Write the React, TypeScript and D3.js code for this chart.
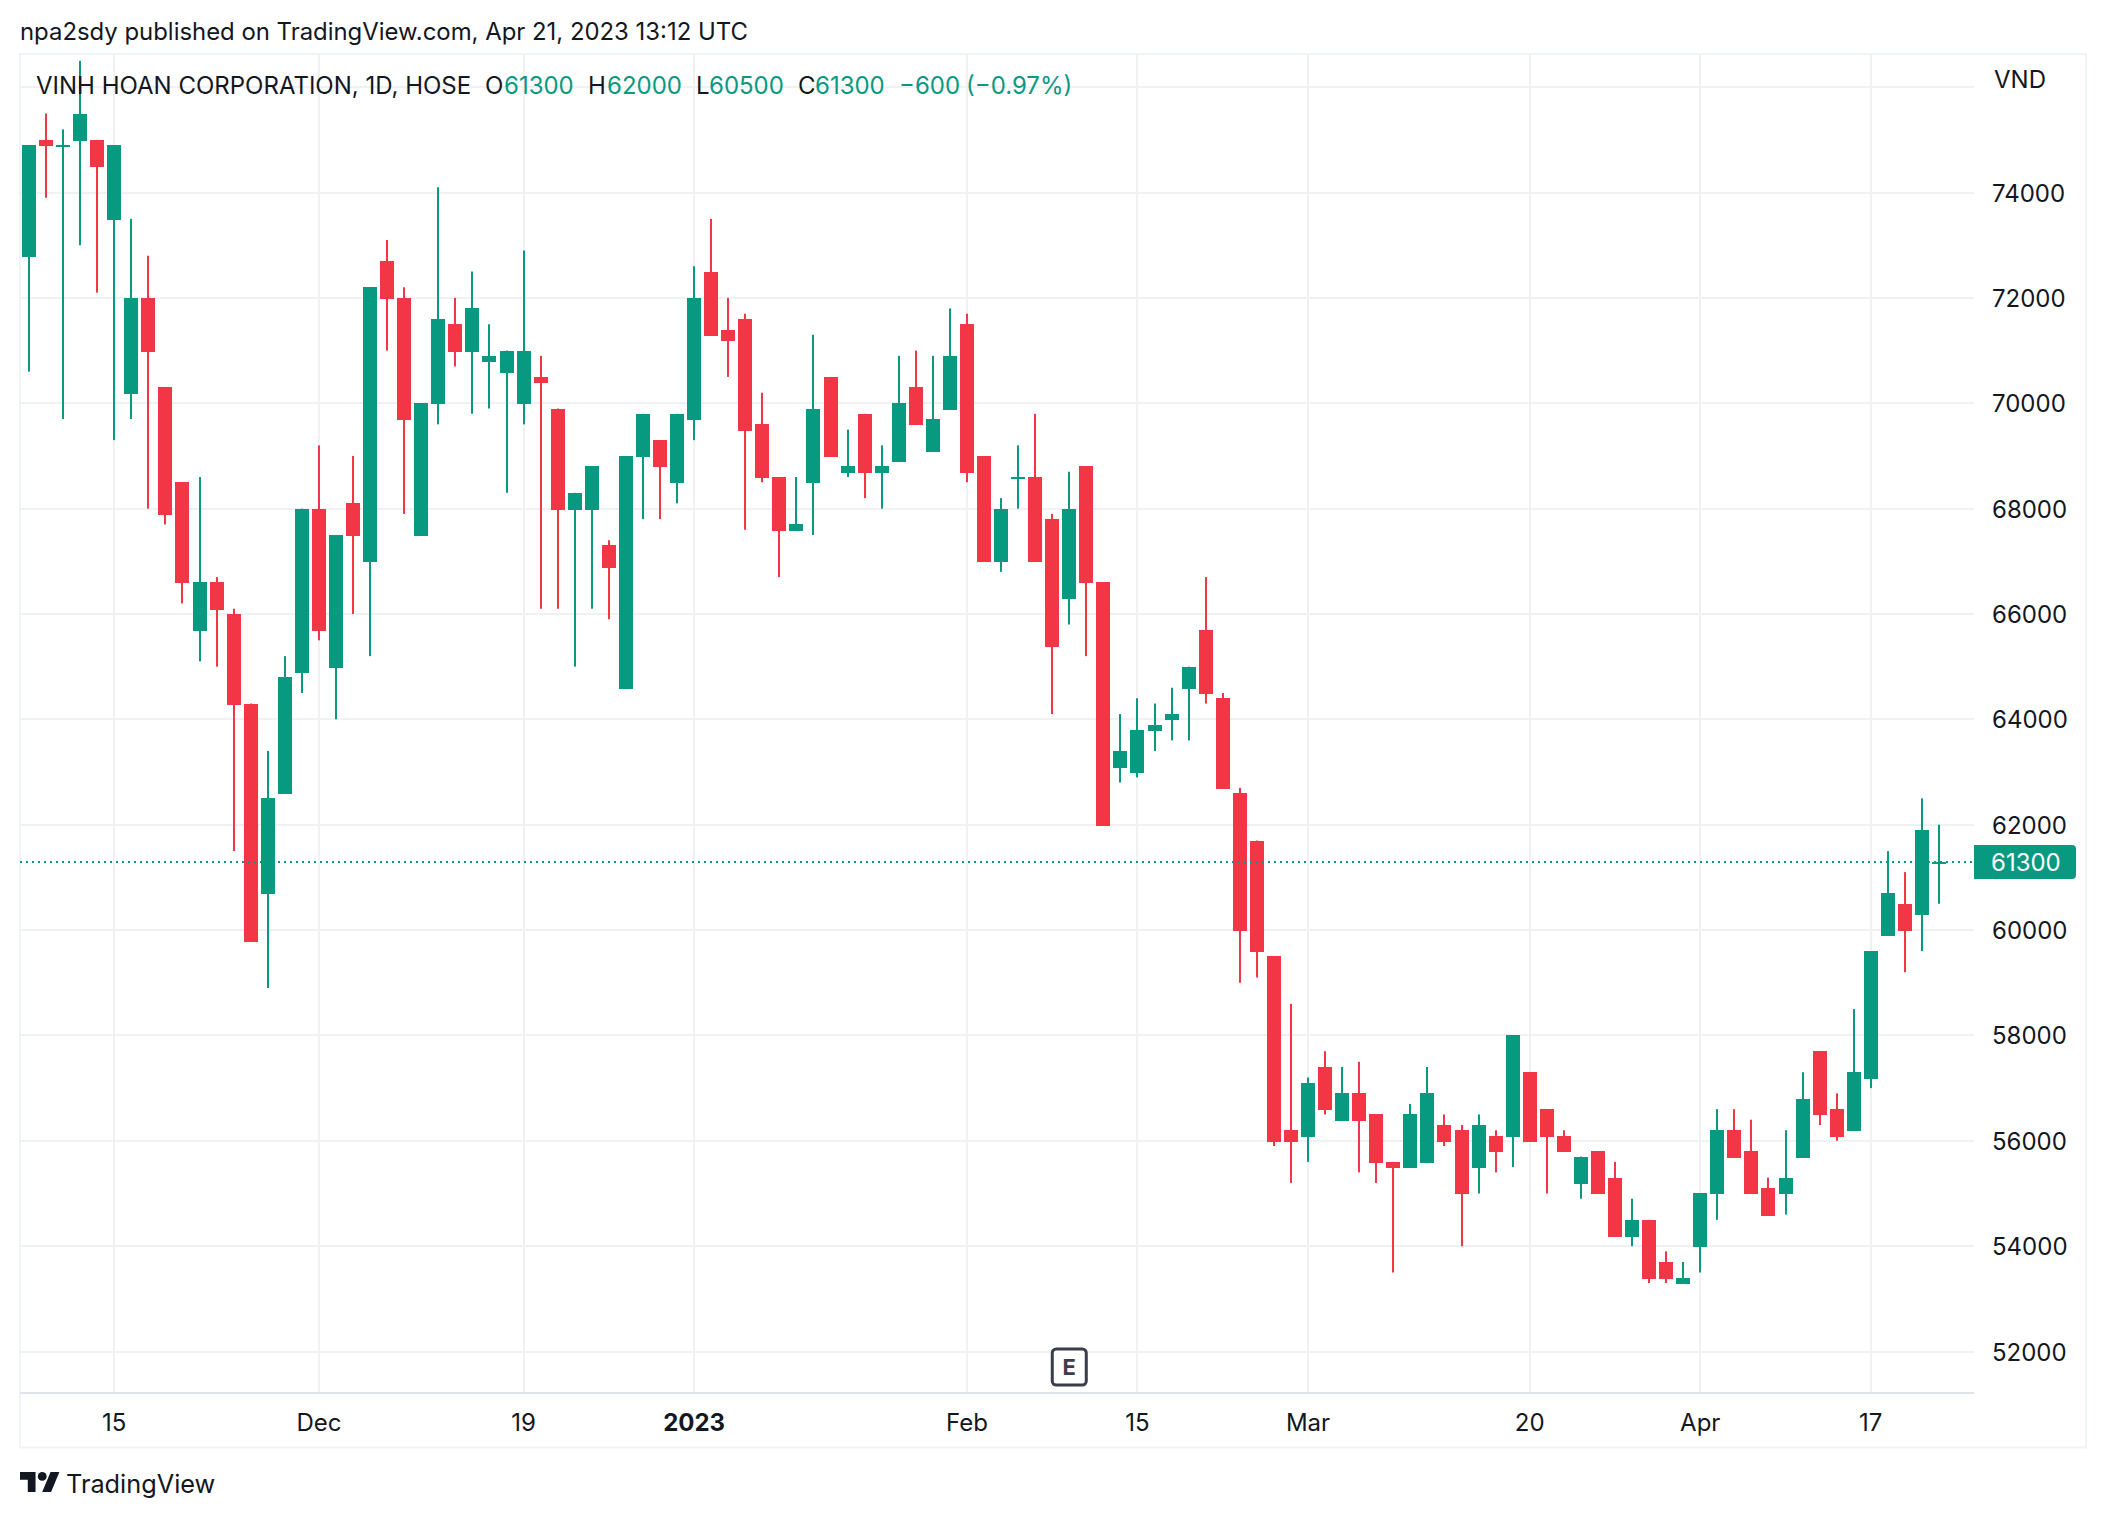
import React from "react";
import * as d3 from "d3";

const W = 2106, H = 1518;

const opens = [72800,75000,74900,75000,75000,73500,70200,72000,70300,68500,65700,66600,66000,64300,60700,62600,64900,68000,65000,68100,67000,72700,72000,67500,70000,71500,71000,70800,70600,70000,70500,69900,68000,68000,67300,64600,69000,69300,68500,69700,72500,71400,71600,69600,68600,67600,68500,70500,68700,69800,68700,68900,70300,69100,69900,71500,69000,67000,68600,68600,67800,66300,68800,66600,63100,63000,63800,64000,64600,65700,64400,62600,61700,59500,56200,56100,57400,56400,56900,56500,55600,55500,55600,56300,56200,55500,56100,56100,57300,56600,56100,55200,55800,55300,54200,54500,53700,53300,54000,55000,56200,55800,55100,55000,55700,57700,56600,56200,57200,59900,60500,60300,61300];
const highs = [74900,75500,75200,76500,75000,74900,73500,72800,70300,68500,68600,66700,66100,64300,63400,65200,68000,69200,67500,69000,72200,73100,72200,70000,74100,72000,72500,71500,71000,72900,70900,69900,68300,68800,67400,69000,69800,69300,69800,72600,73500,72000,71700,70200,68600,68600,71300,70500,69500,69800,69200,70900,71000,70900,71800,71700,69000,68200,69200,69800,67900,68700,68800,66600,64100,64400,64300,64600,65000,66700,64500,62700,61700,59500,58600,57200,57700,57400,57500,56500,55600,56700,57400,56500,56300,56500,56200,58000,57300,56600,56200,55700,55800,55600,54900,54500,53900,53700,55000,56600,56600,56400,55300,56200,57300,57700,56900,58500,59600,61500,61100,62500,62000];
const lows = [70600,73900,69700,73000,72100,69300,69700,68000,67700,66200,65100,65000,61500,59800,58900,62600,64500,65500,64000,66000,65200,71000,67900,67500,69600,70700,69800,69900,68300,69600,66100,66100,65000,66100,65900,64600,67800,67800,68100,69300,71300,70500,67600,68500,66700,67600,67500,69000,68600,68200,68000,68900,69600,69100,69900,68500,67000,66800,68000,67000,64100,65800,65200,62000,62800,62900,63400,63600,63600,64300,62700,59000,59100,55900,55200,55600,56500,56400,55400,55200,53500,55500,55600,55900,54000,55000,55400,55500,56000,55000,55800,54900,55000,54200,54000,53300,53300,53300,53500,54500,55700,55000,54600,54600,55700,56300,56000,56200,57000,59900,59200,59600,60500];
const closes = [74900,74900,74900,75500,74500,74900,72000,71000,67900,66600,66600,66100,64300,59800,62500,64800,68000,65700,67500,67500,72200,72000,69700,70000,71600,71000,71800,70900,71000,71000,70400,68000,68300,68800,66900,69000,69800,68800,69800,72000,71300,71200,69500,68600,67600,67700,69900,69000,68800,68700,68800,70000,69600,69700,70900,68700,67000,68000,68600,67000,65400,68000,66600,62000,63400,63800,63900,64100,65000,64500,62700,60000,59600,56000,56000,57100,56600,56900,56400,55600,55500,56500,56900,56000,55000,56300,55800,58000,56000,56100,55800,55700,55000,54200,54500,53400,53400,53400,55000,56200,55700,55000,54600,55300,56800,56500,56100,57300,59600,60700,60000,61900,61300];

const priceTicks = [52000,54000,56000,58000,60000,62000,64000,66000,68000,70000,72000,74000,76000];
const labelledPriceTicks = [52000,54000,56000,58000,60000,62000,64000,66000,68000,70000,72000,74000];
const timeTickIndex = [5,17,29,39,55,65,75,88,98,108];
const timeTickLabel = ["15","Dec","19","2023","Feb","15","Mar","20","Apr","17"];
const lastPrice = 61300;
const earningsIndex = 61;

const GREEN = "#089981", RED = "#f23645", INK = "#131722", GRID = "#f0f1f3";
const FONT = "Inter, 'Noto Sans', sans-serif";
const paneL = 20, paneR = 1974, paneT = 54, paneB = 1393, frameR = 2086, frameB = 1447.5;

const x = d3.scaleLinear().domain([0, 112]).range([29, 1939]);
const y = d3.scaleLinear().domain([62000, 52000]).range([824.7, 1351.5]);
const bodyW = 14;

const legendParts: [string, number, string][] = [
  ["VINH HOAN CORPORATION, 1D, HOSE", 36, INK],
  ["O", 485, INK], ["61300", 504, GREEN],
  ["H", 588, INK], ["62000", 607, GREEN],
  ["L", 696, INK], ["60500", 709, GREEN],
  ["C", 798, INK], ["61300", 815, GREEN],
  ["\u2212600", 899, GREEN], ["(\u22120.97%)", 966, GREEN],
];

export default function App() {
  const yLast = Math.round(y(lastPrice));
  const eX = x(earningsIndex);
  return (
    <svg width={W} height={H} viewBox={`0 0 ${W} ${H}`} style={{ position: "absolute", left: 0, top: 0, background: "#fff" }} fontFamily={FONT}>
      <rect width={W} height={H} fill="#fff" />
      <text x={20} y={40} fontSize={23.9} fill={INK}>npa2sdy published on TradingView.com, Apr 21, 2023 13:12 UTC</text>
      <rect x={paneL} y={paneT} width={frameR - paneL} height={frameB - paneT} fill="none" stroke="#f0f3fa" strokeWidth={2} />
      {priceTicks.map((t) => (
        <line key={t} x1={paneL} x2={paneR} y1={Math.round(y(t))} y2={Math.round(y(t))} stroke={GRID} strokeWidth={2} />
      ))}
      {timeTickIndex.map((i) => (
        <line key={i} x1={Math.round(x(i))} x2={Math.round(x(i))} y1={paneT} y2={paneB} stroke={GRID} strokeWidth={2} />
      ))}
      <line x1={paneL} x2={paneR} y1={paneB} y2={paneB} stroke="#e0e3eb" strokeWidth={2} />
      {opens.map((o, i) => {
        const c = closes[i];
        const col = c >= o ? GREEN : RED;
        const top = Math.round(y(Math.max(o, c)));
        const bot = Math.round(y(Math.min(o, c))) + 1;
        const cx = Math.round(x(i));
        return (
          <g key={i} fill={col}>
            <rect x={cx - 1} width={2} y={y(highs[i])} height={y(lows[i]) - y(highs[i])} />
            <rect x={cx - bodyW / 2} width={bodyW} y={top} height={Math.max(bot - top, 2)} />
          </g>
        );
      })}
      <line x1={paneL} x2={paneR} y1={yLast} y2={yLast} stroke={GREEN} strokeWidth={2} strokeDasharray="2 4" />
      {legendParts.map(([s, px, col], i) => (
        <text key={i} x={px} y={94} fontSize={24} fill={col}>{s}</text>
      ))}
      <text x={1994} y={88} fontSize={24} fill={INK}>VND</text>
      {labelledPriceTicks.map((t) => (
        <text key={t} x={1992} y={y(t) + 9} fontSize={24} fill={INK}>{t}</text>
      ))}
      <path d={`M${paneR} ${yLast - 17}H2072a4 4 0 0 1 4 4V${yLast + 13}a4 4 0 0 1 -4 4H${paneR}Z`} fill={GREEN} />
      <text x={1991} y={yLast + 9} fontSize={24} fill="#fff">{lastPrice}</text>
      {timeTickIndex.map((i, k) => (
        <text key={i} x={x(i)} y={1431} fontSize={24} fill={INK} textAnchor="middle" fontWeight={timeTickLabel[k] === "2023" ? 700 : 400}>{timeTickLabel[k]}</text>
      ))}
      <rect x={eX - 17} y={1349} width={34} height={36} rx={4} fill="#fff" stroke="#3a3d4b" strokeWidth={3} />
      <text x={eX} y={1375} fontSize={22} fontWeight={700} fill="#3a3d4b" textAnchor="middle">E</text>
      <g transform="translate(20,1467.5) scale(1.11)" fill={INK}>
        <path d="M14 22H7V11H0V4h14v18zM28 22h-8l7.5-18h8L28 22z" />
        <circle cx={20} cy={8} r={4} />
      </g>
      <text x={66} y={1493} fontSize={25.3} fill={INK}>TradingView</text>
    </svg>
  );
}
